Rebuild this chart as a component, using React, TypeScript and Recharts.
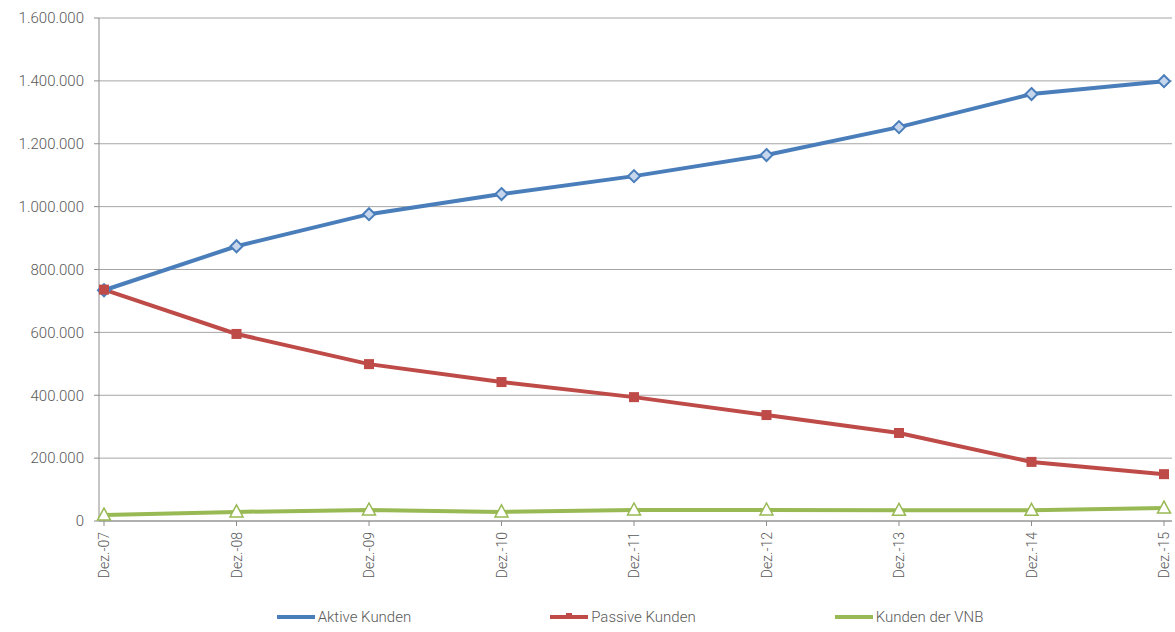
import React from 'react';
import {
    LineChart,
    Line,
    XAxis,
    YAxis,
    CartesianGrid,
    Legend,
} from 'recharts';

const months = ['Dez.-07', 'Dez.-08', 'Dez.-09', 'Dez.-10', 'Dez.-11', 'Dez.-12', 'Dez.-13', 'Dez.-14', 'Dez.-15'];
const aktive = [734000, 874000, 976000, 1040000, 1097000, 1164000, 1253000, 1358000, 1399000];
const passive = [736000, 595000, 499000, 442000, 394000, 337000, 280000, 188000, 149000];
const vnb = [19000, 29000, 35000, 29000, 35000, 35000, 34000, 34000, 41000];
const yTicks = [0, 200000, 400000, 600000, 800000, 1000000, 1200000, 1400000, 1600000];

const BLUE = '#4a7ebb';
const RED = '#be4b48';
const GREEN = '#98b954';
const TEXT = '#595959';
const FONT = 'Roboto, "Noto Sans", sans-serif';

const chartData = months.map((m, i) => ({
    name: m,
    aktive: aktive[i],
    passive: passive[i],
    vnb: vnb[i],
}));

// 1600000 -> "1.600.000"
const fmt = (v: number) => String(v).replace(/\B(?=(\d{3})+(?!\d))/g, '.');

const Diamond = (props: any) => {
    const { cx, cy } = props;
    if (cx == null || cy == null) return null;
    return (
        <path
            d={`M${cx},${cy - 6} L${cx + 6},${cy} L${cx},${cy + 6} L${cx - 6},${cy} Z`}
            fill="#c6d6ec"
            stroke={BLUE}
            strokeWidth={2}
        />
    );
};

const Square = (props: any) => {
    const { cx, cy } = props;
    if (cx == null || cy == null) return null;
    return <rect x={cx - 5} y={cy - 5} width={10} height={10} fill={RED} />;
};

const Triangle = (props: any) => {
    const { cx, cy } = props;
    if (cx == null || cy == null) return null;
    return (
        <path
            d={`M${cx},${cy - 7} L${cx + 6.5},${cy + 5} L${cx - 6.5},${cy + 5} Z`}
            fill="#ffffff"
            stroke={GREEN}
            strokeWidth={1.5}
        />
    );
};

const XTick = (props: any) => {
    const { x, y, payload } = props;
    return (
        <text
            x={0}
            y={0}
            transform={`translate(${x + 5},${y + 4}) rotate(-90)`}
            textAnchor="end"
            fill={TEXT}
            fontSize={14}
            fontFamily={FONT}
            fontWeight={300}
        >
            {payload.value}
        </text>
    );
};

const legendItems = [
    { label: 'Aktive Kunden', color: BLUE },
    { label: 'Passive Kunden', color: RED },
    { label: 'Kunden der VNB', color: GREEN },
];

const LegendContent = () => (
    <div
        style={{
            display: 'flex',
            justifyContent: 'center',
            alignItems: 'center',
            gap: 139,
            height: 30,
            paddingLeft: 88,
            fontFamily: FONT,
            fontSize: 15,
            fontWeight: 300,
            color: TEXT,
        }}
    >
        {legendItems.map((it, i) => (
            <div key={it.label} style={{ display: 'flex', alignItems: 'center' }}>
                <svg width={38} height={10} style={{ marginRight: 3 }}>
                    <line x1={0} y1={5} x2={38} y2={5} stroke={it.color} strokeWidth={4} />
                    {i === 1 ? (
                        <rect x={16} y={1} width={6} height={6} fill={it.color} />
                    ) : (
                        <rect x={17} y={3} width={4} height={4} fill={it.color} />
                    )}
                </svg>
                <span>{it.label}</span>
            </div>
        ))}
    </div>
);

export default function App() {
    return (
        <div style={{ position: 'absolute', left: 0, top: 0, background: '#fff' }}>
            <LineChart
                width={1175}
                height={632}
                data={chartData}
                margin={{ top: 18, right: 3, left: 0, bottom: 0 }}
            >
                <CartesianGrid vertical={false} stroke="#a6a6a6" strokeWidth={1} />
                <XAxis
                    dataKey="name"
                    padding={{ left: 5, right: 8 }}
                    height={81}
                    tick={<XTick />}
                    tickSize={5}
                    stroke="#8c8c8c"
                    interval={0}
                />
                <YAxis
                    width={99}
                    domain={[0, 1600000]}
                    ticks={yTicks}
                    tickFormatter={fmt}
                    tickSize={5}
                    tickMargin={10}
                    stroke="#8c8c8c"
                    tick={{ fill: TEXT, fontSize: 15, fontFamily: FONT, fontWeight: 300 }}
                    interval={0}
                />
                <Legend verticalAlign="bottom" height={30} content={<LegendContent />} />
                <Line
                    dataKey="aktive"
                    stroke={BLUE}
                    strokeWidth={4}
                    dot={<Diamond />}
                    activeDot={false}
                    isAnimationActive={false}
                />
                <Line
                    dataKey="passive"
                    stroke={RED}
                    strokeWidth={4}
                    dot={<Square />}
                    activeDot={false}
                    isAnimationActive={false}
                />
                <Line
                    dataKey="vnb"
                    stroke={GREEN}
                    strokeWidth={4}
                    dot={<Triangle />}
                    activeDot={false}
                    isAnimationActive={false}
                />
            </LineChart>
        </div>
    );
}
